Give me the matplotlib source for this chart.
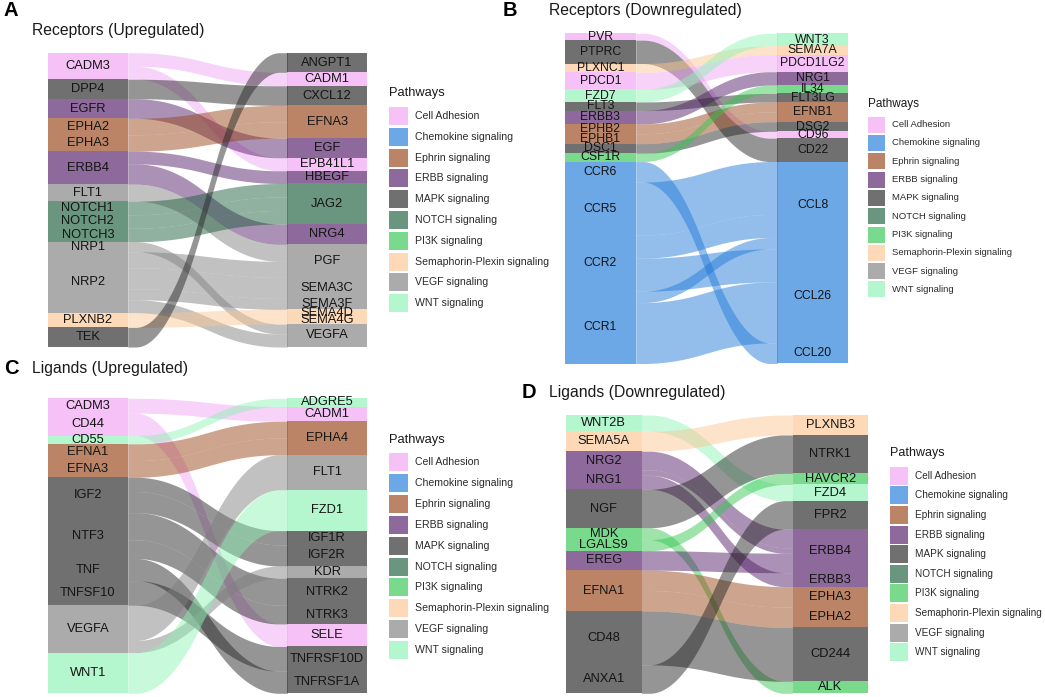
import numpy as np
import matplotlib
matplotlib.use("Agg")
import matplotlib.pyplot as plt
from matplotlib.patches import Rectangle
from matplotlib.colors import to_rgb

plt.rcParams['font.family'] = ['Liberation Sans', 'DejaVu Sans']

W, H = 1045, 697

pathways = ["Cell Adhesion", "Chemokine signaling", "Ephrin signaling", "ERBB signaling",
            "MAPK signaling", "NOTCH signaling", "PI3K signaling",
            "Semaphorin-Plexin signaling", "VEGF signaling", "WNT signaling"]
pathway_colors = ["#F5C2F8", "#6DA7E6", "#BC8466", "#8D6A9B", "#707070",
                  "#6A957F", "#7ADA8C", "#FDDAB8", "#ABABAB", "#B5F7CE"]
PW = dict(zip(["CA", "CHEM", "EPH", "ERBB", "MAPK", "NOTCH", "PI3K", "SEMA", "VEGF", "WNT"], pathways))

# ---------------- Panel A: Receptors (Upregulated) ----------------
a_left = ["CADM3", "DPP4", "EGFR", "EPHA2", "EPHA3", "ERBB4", "FLT1", "NOTCH1", "NOTCH2",
          "NOTCH3", "NRP1", "NRP2", "PLXNB2", "TEK"]
a_right = ["ANGPT1", "CADM1", "CXCL12", "EFNA3", "EGF", "EPB41L1", "HBEGF", "JAG2", "NRG4",
           "PGF", "SEMA3C", "SEMA3F", "SEMA4D", "SEMA4G", "VEGFA"]
a_src = ["CADM3", "CADM3", "DPP4", "EGFR", "EPHA2", "EPHA3", "ERBB4", "ERBB4", "FLT1",
         "NOTCH1", "NOTCH2", "NOTCH3", "NRP1", "NRP2", "NRP2", "NRP2", "NRP2", "PLXNB2",
         "PLXNB2", "TEK"]
a_tgt = ["CADM1", "EPB41L1", "CXCL12", "EGF", "EFNA3", "EFNA3", "HBEGF", "NRG4", "PGF",
         "JAG2", "JAG2", "JAG2", "VEGFA", "PGF", "SEMA3C", "SEMA3F", "VEGFA", "SEMA4D",
         "SEMA4G", "ANGPT1"]
a_val = [13.5, 13.0, 19.5, 19.6, 16.4, 16.4, 12.7, 20.3, 17.0, 13.5, 13.5, 13.5, 10.0,
         16.0, 21.0, 11.0, 13.0, 7.3, 7.3, 19.6]
a_path = ["CA", "CA", "MAPK", "ERBB", "EPH", "EPH", "ERBB", "ERBB", "VEGF", "NOTCH",
          "NOTCH", "NOTCH", "VEGF", "VEGF", "VEGF", "VEGF", "VEGF", "SEMA", "SEMA", "MAPK"]

# ---------------- Panel B: Receptors (Downregulated) ----------------
b_left = ["PVR", "PTPRC", "PLXNC1", "PDCD1", "FZD7", "FLT3", "ERBB3", "EPHB2", "EPHB1",
          "DSC1", "CSF1R", "CCR6", "CCR5", "CCR2", "CCR1"]
b_right = ["WNT3", "SEMA7A", "PDCD1LG2", "NRG1", "IL34", "FLT3LG", "EFNB1", "DSG2", "CD96",
           "CD22", "CCL8", "CCL26", "CCL20"]
b_src = ["PVR", "PTPRC", "PLXNC1", "PDCD1", "FZD7", "FLT3", "ERBB3", "EPHB2", "EPHB1",
         "DSC1", "CSF1R", "CCR6", "CCR5", "CCR2", "CCR2", "CCR1", "CCR1"]
b_tgt = ["CD96", "CD22", "SEMA7A", "PDCD1LG2", "WNT3", "FLT3LG", "NRG1", "EFNB1", "EFNB1",
         "DSG2", "IL34", "CCL20", "CCL8", "CCL8", "CCL26", "CCL8", "CCL26"]
b_val = [6.8, 23.3, 8.8, 17.0, 12.5, 8.6, 13.3, 9.8, 9.8, 9.6, 8.3, 20.5, 52.7, 23.0,
         33.0, 11.3, 60.7]
b_path = ["CA", "MAPK", "SEMA", "CA", "WNT", "MAPK", "ERBB", "EPH", "EPH", "MAPK", "PI3K",
          "CHEM", "CHEM", "CHEM", "CHEM", "CHEM", "CHEM"]

# ---------------- Panel C: Ligands (Upregulated) ----------------
c_left = ["CADM3", "CD44", "CD55", "EFNA1", "EFNA3", "IGF2", "NTF3", "TNF", "TNFSF10",
          "VEGFA", "WNT1"]
c_right = ["ADGRE5", "CADM1", "EPHA4", "FLT1", "FZD1", "IGF1R", "IGF2R", "KDR", "NTRK2",
           "NTRK3", "SELE", "TNFRSF10D", "TNFRSF1A"]
c_src = ["CADM3", "CD44", "CD55", "EFNA1", "EFNA3", "IGF2", "IGF2", "NTF3", "NTF3", "TNF",
         "TNFSF10", "VEGFA", "VEGFA", "WNT1"]
c_tgt = ["CADM1", "SELE", "ADGRE5", "EPHA4", "EPHA4", "IGF1R", "IGF2R", "NTRK2", "NTRK3",
         "TNFRSF1A", "TNFRSF10D", "FLT1", "KDR", "FZD1"]
c_val = [14.7, 22.4, 8.2, 16.6, 16.6, 14.2, 21.0, 27.0, 18.6, 22.0, 24.6, 35.0, 12.0, 40.5]
c_path = ["CA", "CA", "WNT", "EPH", "EPH", "MAPK", "MAPK", "MAPK", "MAPK", "MAPK", "MAPK",
          "VEGF", "VEGF", "WNT"]

# ---------------- Panel D: Ligands (Downregulated) ----------------
d_left = ["WNT2B", "SEMA5A", "NRG2", "NRG1", "NGF", "MDK", "LGALS9", "EREG", "EFNA1",
          "CD48", "ANXA1"]
d_right = ["PLXNB3", "NTRK1", "HAVCR2", "FZD4", "FPR2", "ERBB4", "ERBB3", "EPHA3", "EPHA2",
           "CD244", "ALK"]
d_src = ["WNT2B", "SEMA5A", "NRG2", "NRG1", "NRG1", "NGF", "MDK", "LGALS9", "EREG",
         "EFNA1", "EFNA1", "CD48", "ANXA1"]
d_tgt = ["FZD4", "PLXNB3", "ERBB4", "ERBB4", "ERBB3", "NTRK1", "ALK", "HAVCR2", "ERBB4",
         "EPHA3", "EPHA2", "CD244", "FPR2"]
d_val = [16.3, 20.0, 18.6, 5.5, 14.0, 38.5, 12.0, 11.0, 19.5, 20.4, 20.4, 54.0, 28.5]
d_path = ["WNT", "SEMA", "ERBB", "ERBB", "ERBB", "MAPK", "PI3K", "PI3K", "ERBB", "EPH",
          "EPH", "MAPK", "MAPK"]

STRATUM_ALPHA = 0.65
FLOW_ALPHA = 0.48
color_of = dict(zip(pathways, pathway_colors))
# underlying (un-faded) colour, so that the strata displayed at STRATUM_ALPHA match the legend
base_of = {p: tuple(np.clip(1 - (1 - np.array(to_rgb(c))) / STRATUM_ALPHA, 0, 1))
           for p, c in color_of.items()}

fig = plt.figure(figsize=(W / 100, H / 100), dpi=100)


def px_axes(x0, y0, x1, y1):
    return fig.add_axes([x0 / W, 1 - y1 / H, (x1 - x0) / W, (y1 - y0) / H])


def ramp(t, k=0.25, r=0.2):
    """Rounded piecewise-linear easing (flat ends, straight middle)."""
    m = 1.0 / (1 - 2 * k)
    f = np.clip(m * (t - k), 0, 1)
    a = np.abs(t - k) < r
    f[a] = m * (t[a] - k + r) ** 2 / (4 * r)
    b = np.abs(t - (1 - k)) < r
    f[b] = 1 - m * ((1 - k + r) - t[b]) ** 2 / (4 * r)
    return f


def alluvial(box, left, right, src, tgt, val, path, fs=9.3, w=1/3):
    ax = px_axes(*box)
    ax.set_axis_off()
    li = {n: i for i, n in enumerate(left)}
    ri = {n: i for i, n in enumerate(right)}
    flows = list(range(len(src)))
    lsize = {n: 0.0 for n in left}
    rsize = {n: 0.0 for n in right}
    npath = {}
    for k in flows:
        lsize[src[k]] += val[k]
        rsize[tgt[k]] += val[k]
        npath.setdefault(src[k], PW[path[k]])
        npath.setdefault(tgt[k], PW[path[k]])
    ltop, c = {}, 0.0
    for n in left:
        ltop[n] = c
        c += lsize[n]
    total = c
    rtop, c = {}, 0.0
    for n in right:
        rtop[n] = c
        c += rsize[n]
    lpos, rpos = {}, {}
    off = dict(ltop)
    for k in sorted(flows, key=lambda k: (li[src[k]], ri[tgt[k]])):
        lpos[k] = off[src[k]]
        off[src[k]] += val[k]
    off = dict(rtop)
    for k in sorted(flows, key=lambda k: (ri[tgt[k]], li[src[k]])):
        rpos[k] = off[tgt[k]]
        off[tgt[k]] += val[k]
    xL, xR = 1 + w / 2, 2 - w / 2
    xs = np.linspace(xL, xR, 200)
    s = ramp((xs - xL) / (xR - xL))
    for k in flows:
        top = lpos[k] + (rpos[k] - lpos[k]) * s
        ax.fill_between(xs, top, top + val[k], color=base_of[PW[path[k]]],
                        alpha=FLOW_ALPHA, lw=0, zorder=1)
    for col, order, size, topd in ((1, left, lsize, ltop), (2, right, rsize, rtop)):
        for n in order:
            ax.add_patch(Rectangle((col - w / 2, topd[n]), w, size[n],
                                   facecolor=base_of[npath[n]], alpha=STRATUM_ALPHA,
                                   edgecolor='none', zorder=2))
            ax.text(col, topd[n] + size[n] / 2, n, ha='center', va='center',
                    fontsize=fs, color='#141414', zorder=3)
    ax.set_xlim(1 - w / 2, 2 + w / 2)
    ax.set_ylim(total, 0)
    return ax


def legend(x, y_title, y_first, step, kw, kh, fs, tfs):
    fig.text(x / W, 1 - y_title / H, "Pathways", fontsize=tfs, color='#1a1a1a',
             ha='left', va='center')
    lax = px_axes(x, y_first, x + 200, y_first + step * 10)
    lax.set_axis_off()
    lax.set_xlim(0, 200)
    lax.set_ylim(step * 10, 0)
    for i, name in enumerate(pathways):
        lax.add_patch(Rectangle((0, i * step), kw, kh, facecolor=base_of[name],
                                alpha=STRATUM_ALPHA, edgecolor='none'))
        lax.text(kw + 7, i * step + kh / 2, name, fontsize=fs, color='#2a2a2a',
                 ha='left', va='center')


alluvial((48, 52.7, 367, 347), a_left, a_right, a_src, a_tgt, a_val, a_path)
alluvial((565, 33.3, 848, 363.5), b_left, b_right, b_src, b_tgt, b_val, b_path, fs=8.8)
alluvial((48, 398.3, 367, 693.3), c_left, c_right, c_src, c_tgt, c_val, c_path)
alluvial((566, 415, 868, 693.3), d_left, d_right, d_src, d_tgt, d_val, d_path)

legend(389, 93, 107, 20.8, 19, 18, 7.6, 9.3)
legend(868, 104, 116.7, 18.3, 17, 16, 6.8, 8.5)
legend(389, 440, 453, 20.9, 19, 18, 7.6, 9.3)
legend(890, 453, 466.7, 19.6, 18, 18, 7.2, 9.0)

for letter, lx, ly, title, tx, ty in (("A", 3, 10, "Receptors (Upregulated)", 32, 30),
                                      ("B", 503, 10, "Receptors (Downregulated)", 549, 10),
                                      ("C", 4, 368, "Ligands (Upregulated)", 32, 368),
                                      ("D", 522, 392, "Ligands (Downregulated)", 549, 392)):
    fig.text(lx / W, 1 - ly / H, letter, fontsize=14.5, fontweight='bold', ha='left',
             va='center', color='black')
    fig.text(tx / W, 1 - ty / H, title, fontsize=11.3, ha='left', va='center',
             color='#1a1a1a')

fig.savefig("out.png", dpi=100, facecolor='white')
